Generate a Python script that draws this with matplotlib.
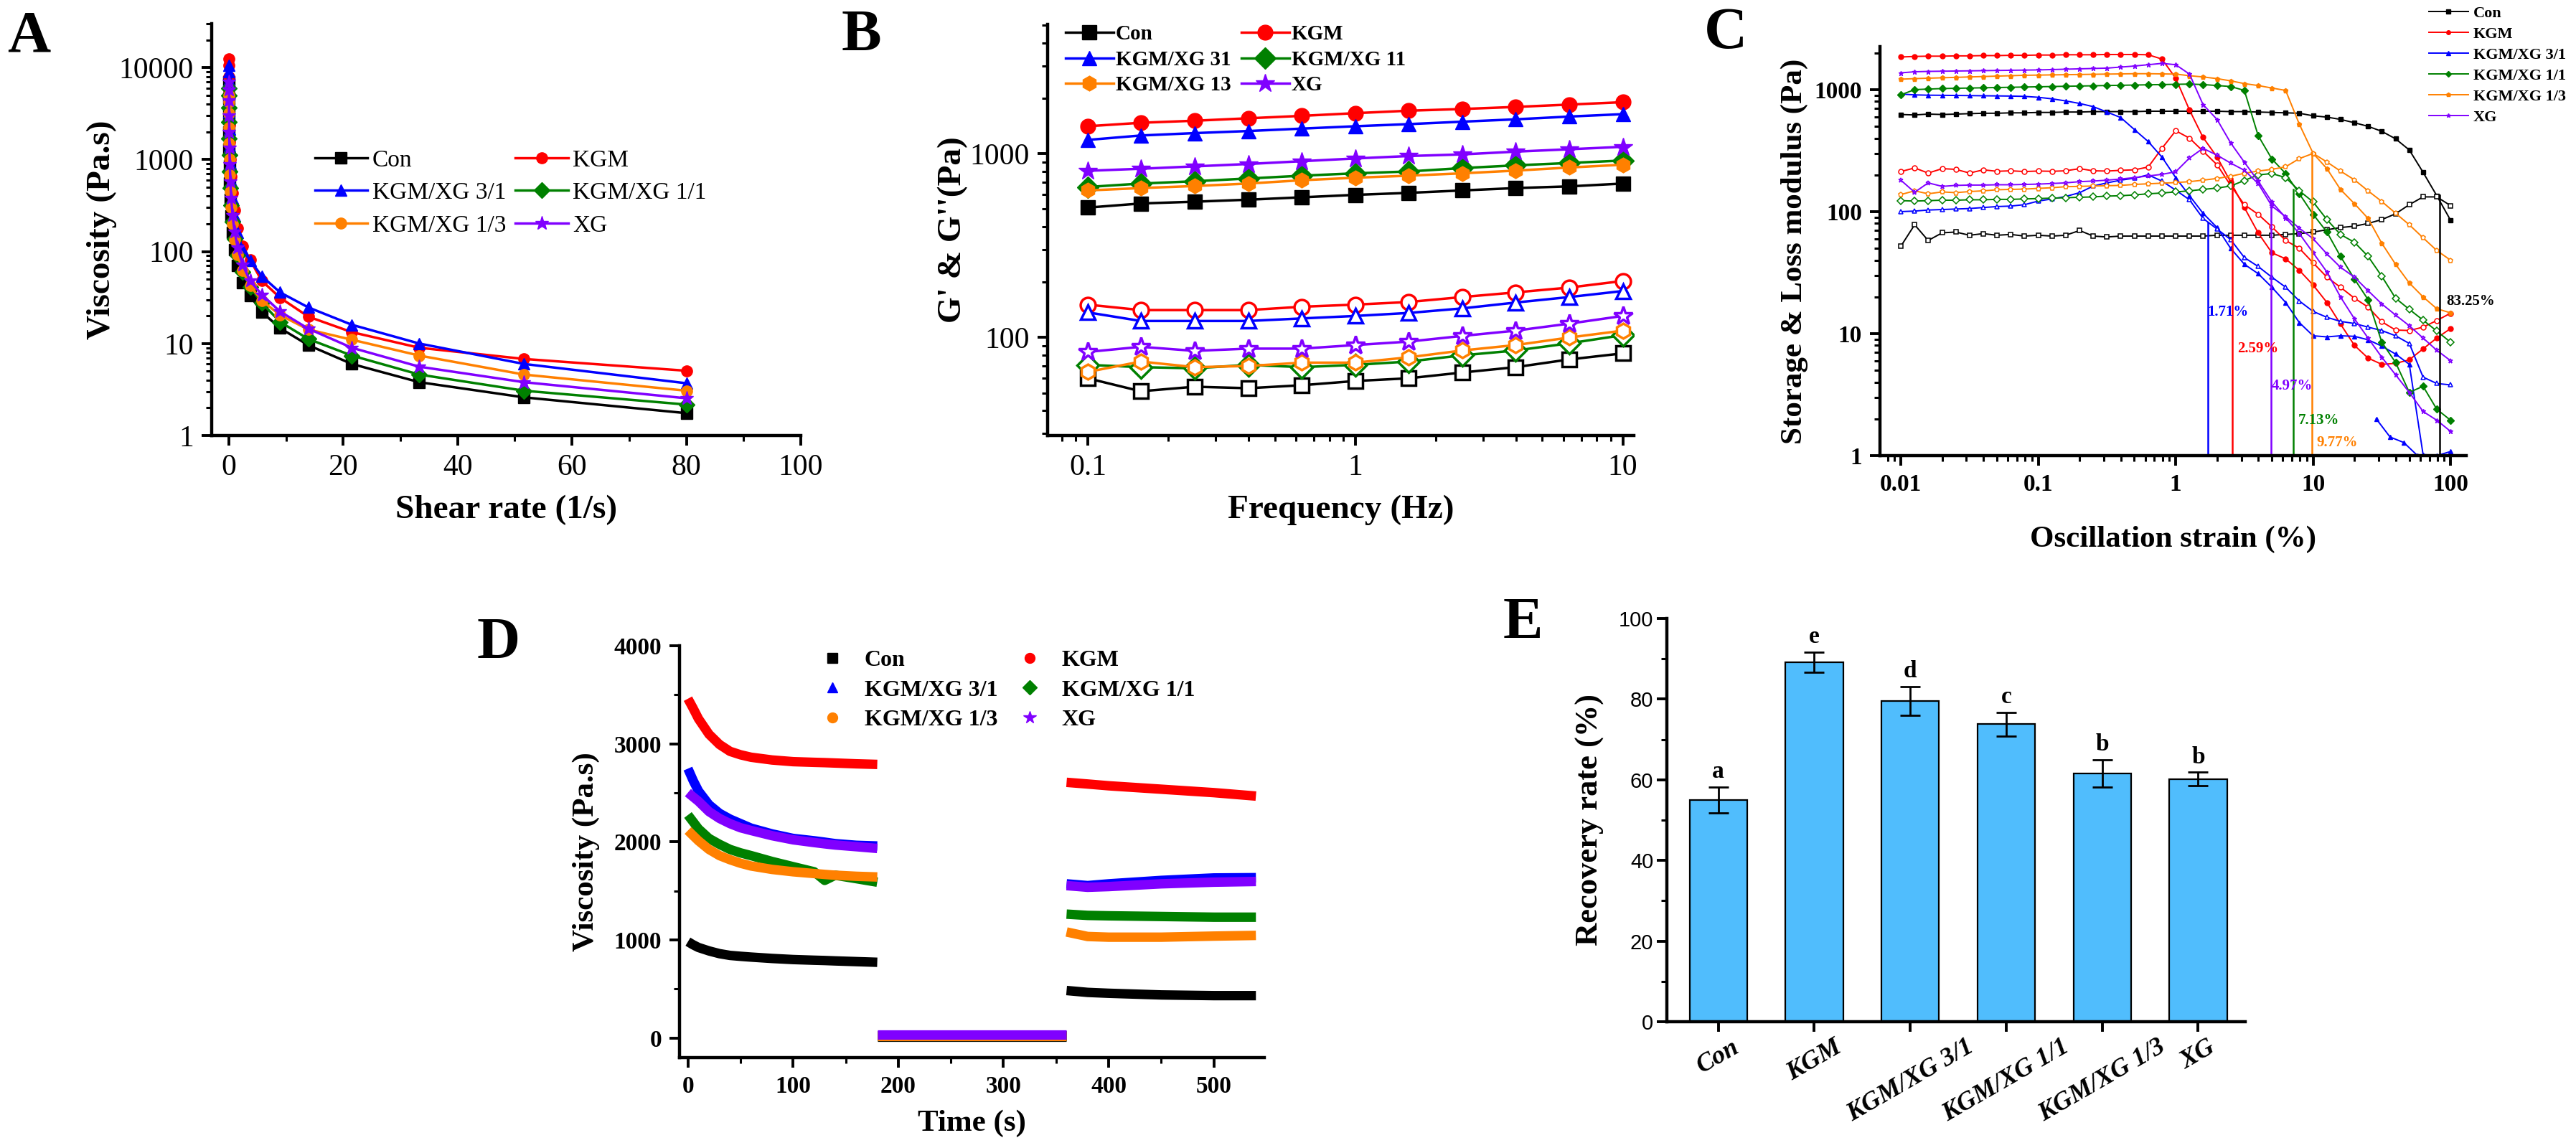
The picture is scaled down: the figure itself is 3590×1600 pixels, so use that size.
import numpy as np
import matplotlib.pyplot as plt
from matplotlib.ticker import LogLocator, NullFormatter, MultipleLocator
from matplotlib.lines import Line2D

plt.rcParams['font.family'] = ['Liberation Serif', 'DejaVu Serif']

W, H = 3591, 1600

names = ['Con', 'KGM', 'KGM/XG 3/1', 'KGM/XG 1/1', 'KGM/XG 1/3', 'XG']
names_B = ['Con', 'KGM', 'KGM/XG 31', 'KGM/XG 11', 'KGM/XG 13', 'XG']
colors = ['black', '#FF0000', '#0000FF', '#008000', '#FF8000', '#8000FF']

# ---- A: steady shear viscosity ----
shear = [0.0125, 0.0194, 0.030, 0.0465, 0.072, 0.112, 0.173, 0.268, 0.416, 0.645, 1.0,
         1.55, 2.40, 3.73, 5.77, 8.95, 13.9, 21.5, 33.3, 51.6, 80.0]
visc_con = [7000, 4600, 3000, 2000, 1300, 850, 560, 370, 245, 160, 105, 70, 46, 33, 22, 14.7, 9.6, 6.0, 3.8, 2.6, 1.75]
visc_kgm = [12500, 10500, 8000, 5600, 3700, 2400, 1550, 1000, 660, 430, 280, 180, 115, 81, 48, 31.5, 19.6, 13.3, 9.0, 6.8, 5.06]
visc_31 = [10500, 9000, 7200, 5000, 3300, 2150, 1400, 900, 590, 380, 245, 160, 105, 80, 54, 36, 24.7, 16, 10, 6.0, 3.7]
visc_11 = [6000, 5000, 3700, 2550, 1700, 1120, 740, 490, 320, 210, 137, 90, 60, 41, 27.6, 17.2, 11.2, 7.4, 4.6, 3.07, 2.17]
visc_13 = [5000, 4200, 3200, 2200, 1500, 1000, 680, 450, 300, 200, 135, 92, 62, 42.5, 29.3, 20.4, 14.2, 11, 7.4, 4.6, 3.07]
visc_xg = [7000, 5800, 4400, 3000, 2000, 1330, 880, 580, 380, 250, 165, 110, 72, 48, 34, 22.3, 14.5, 9.0, 5.6, 3.8, 2.54]

# ---- B: frequency sweep ----
freq = [0.1, 0.158, 0.251, 0.398, 0.631, 1.0, 1.58, 2.51, 3.98, 6.31, 10.0]
gp_con = [509, 536, 548, 562, 579, 597, 612, 631, 650, 664, 688]
gp_kgm = [1410, 1473, 1511, 1558, 1606, 1661, 1713, 1750, 1796, 1850, 1906]
gp_31 = [1188, 1256, 1294, 1328, 1369, 1410, 1448, 1493, 1538, 1592, 1641]
gp_11 = [659, 688, 708, 733, 759, 782, 800, 835, 864, 890, 918]
gp_13 = [631, 650, 667, 688, 717, 740, 759, 782, 809, 841, 871]
gp_xg = [807, 828, 853, 879, 910, 942, 971, 991, 1026, 1057, 1090]
gpp_con = [60, 51, 54, 53, 55, 58, 60, 64.5, 69, 76, 82]
gpp_kgm = [151, 141, 141, 141, 147, 151, 156, 166, 176, 187, 203]
gpp_31 = [137, 123, 123, 123, 127, 131, 136, 144, 155, 166, 179]
gpp_11 = [71, 69, 68, 71, 69, 71, 74, 80, 85, 93, 103]
gpp_13 = [65, 74, 69, 70, 73, 73, 78, 85, 91, 100, 109]
gpp_xg = [83.5, 89, 84.6, 87, 87, 91, 95, 102, 109, 119, 131]

# ---- C: amplitude sweep ----
strain = [0.01, 0.0126, 0.0158, 0.02, 0.0251, 0.0316, 0.0398, 0.0501, 0.0631, 0.0794,
          0.1, 0.126, 0.158, 0.2, 0.251, 0.316, 0.398, 0.501, 0.631, 0.794,
          1, 1.26, 1.58, 2, 2.51, 3.16, 3.98, 5.01, 6.31, 7.94,
          10, 12.6, 15.8, 20, 25.1, 31.6, 39.8, 50.1, 63.1, 79.4, 100]
sto_con = [625, 620, 630, 625, 630, 635, 640, 640, 645, 645, 650, 650, 655, 655, 660, 660, 660, 660, 665, 665,
           665, 665, 665, 665, 660, 660, 655, 650, 645, 640, 610, 595, 570, 535, 500, 455, 395, 320, 210, 135, 85]
loss_con = [52, 78, 58, 67, 68, 64, 66, 64, 65, 63, 64, 63, 64, 70, 63, 62, 63, 63, 63, 63,
            63, 63, 63, 64, 64, 64, 64, 64, 65, 66, 68, 71, 74, 76, 80, 86, 96, 114, 132, 132, 112]
sto_kgm = [1850, 1870, 1880, 1880, 1890, 1890, 1900, 1900, 1910, 1910, 1920, 1920, 1930, 1930, 1930, 1940, 1940, 1940, 1930, 1780,
           1240, 680, 406, 280, 175, 108, 67, 46, 41, 33, 25, 18, 12, 8, 6.3, 5.6, 5.7, 6.1, 7.5, 9.2, 11]
loss_kgm = [213, 228, 207, 225, 222, 207, 220, 214, 216, 213, 215, 214, 216, 225, 216, 215, 218, 220, 232, 330,
            460, 400, 313, 242, 164, 114, 95, 75, 58, 50, 38, 29, 24, 19.5, 16.5, 12.5, 10.7, 10.6, 11.3, 12.8, 14.7]
sto_31 = [920, 905, 900, 898, 895, 893, 890, 888, 885, 880, 865, 840, 808, 770, 725, 655, 590, 470, 375, 280,
          190, 135, 97, 74, 50, 37, 31, 24, 18, 12.3, 9.6, 9.4, 9.6, 9.5, 8.9, 7.9, 6.8, 5.6, 1.02, 1.0, 1.08]
loss_31 = [100, 101, 103, 104, 105, 106, 108, 110, 111, 114, 122, 127, 133, 143, 162, 172, 181, 188, 200, 178,
           150, 125, 88, 72, 59, 42, 35.5, 29, 24, 18.5, 15.2, 13.6, 12.6, 12.1, 11.3, 10.6, 9.6, 8.3, 4.4, 3.9, 3.8]
sto_11 = [906, 1000, 1010, 1020, 1025, 1030, 1035, 1040, 1045, 1050, 1055, 1060, 1065, 1070, 1075, 1080, 1085, 1090, 1095, 1100,
          1105, 1110, 1100, 1080, 1060, 985, 420, 270, 205, 140, 95, 68, 43, 28, 19, 8.5, 5.8, 3.3, 3.7, 2.4, 1.95]
loss_11 = [123, 122, 123, 124, 124, 125, 125, 126, 126, 127, 128, 129, 130, 131, 132, 134, 135, 137, 140, 142,
           145, 148, 152, 156, 162, 180, 200, 205, 190, 148, 120, 86, 65, 56, 43, 29.5, 19.5, 15.8, 12.9, 10.5, 8.5]
sto_13 = [1218, 1230, 1240, 1250, 1260, 1270, 1280, 1290, 1300, 1310, 1315, 1320, 1325, 1330, 1335, 1340, 1345, 1350, 1350, 1345,
          1340, 1300, 1270, 1230, 1180, 1120, 1080, 1030, 985, 520, 300, 225, 152, 116, 88, 55, 37, 26, 20, 16, 14.8]
loss_13 = [138, 148, 140, 145, 143, 146, 148, 151, 152, 153, 155, 157, 160, 161, 162, 163, 164, 167, 169, 171,
           173, 176, 181, 187, 195, 206, 215, 222, 233, 272, 300, 255, 215, 182, 148, 121, 97, 78, 61, 48, 40]
sto_xg = [1372, 1400, 1410, 1415, 1420, 1425, 1430, 1435, 1440, 1445, 1450, 1460, 1470, 1480, 1490, 1500, 1530, 1560, 1600, 1640,
          1600, 1340, 755, 569, 366, 254, 178, 120, 89, 66, 46, 32, 20, 13.2, 9.2, 6.4, 4.6, 3.3, 2.3, 1.95, 1.58]
loss_xg = [181, 144, 172, 161, 164, 165, 165, 166, 166, 167, 168, 170, 172, 176, 178, 181, 185, 190, 196, 202,
           212, 275, 330, 290, 250, 218, 170, 111, 91, 73, 60, 45, 35, 29, 22.5, 17.5, 14.2, 11.6, 9.2, 7.3, 6.0]
tail_strain_31 = [28.8, 36.3, 45.7, 57.5]
tail_sto_31 = [2.0, 1.42, 1.28, 1.0]
yield_strain = [1.71, 2.59, 4.97, 7.13, 9.77, 83.25]
yield_top = [81, 186, 123, 152, 305, 136]
yield_text = ['1.71%', '2.59%', '4.97%', '7.13%', '9.77%', '83.25%']
yield_color = ['#0000FF', '#FF0000', '#8000FF', '#008000', '#FF8000', 'black']
yield_text_x = [1.71, 2.82, 4.97, 7.8, 10.6, 93]
yield_text_y = [15, 7.5, 3.7, 1.94, 1.28, 18.5]

# ---- D: three interval thixotropy ----
t1 = [0, 5, 10, 20, 30, 40, 50, 60, 80, 100, 120, 130, 140, 160, 180]
d_con1 = [982, 950, 923, 888, 860, 842, 833, 825, 811, 800, 793, 790, 786, 779, 772]
d_kgm1 = [3460, 3361, 3256, 3098, 2993, 2923, 2888, 2863, 2835, 2818, 2811, 2808, 2804, 2796, 2790]
d_31_1 = [2747, 2625, 2519, 2379, 2291, 2232, 2186, 2140, 2081, 2035, 2011, 1997, 1982, 1965, 1958]
d_11_1 = [2274, 2204, 2133, 2035, 1975, 1923, 1888, 1860, 1800, 1747, 1695, 1607, 1660, 1625, 1589]
d_13_1 = [2116, 2063, 2011, 1923, 1860, 1818, 1782, 1754, 1719, 1695, 1677, 1668, 1660, 1649, 1642]
d_xg1 = [2502, 2458, 2414, 2309, 2239, 2186, 2144, 2116, 2063, 2021, 1993, 1980, 1968, 1951, 1933]
t2 = [180, 360]
d_con2 = [15, 15]
d_kgm2 = [28, 28]
d_31_2 = [30, 30]
d_11_2 = [22, 22]
d_13_2 = [20, 20]
d_xg2 = [35, 35]
t3 = [360, 380, 400, 450, 500, 540]
d_con3 = [484, 465, 456, 439, 432, 432]
d_kgm3 = [2607, 2590, 2572, 2537, 2502, 2467]
d_31_3 = [1572, 1554, 1572, 1607, 1632, 1635]
d_11_3 = [1263, 1250, 1246, 1239, 1232, 1232]
d_13_3 = [1081, 1035, 1028, 1028, 1039, 1046]
d_xg3 = [1554, 1537, 1544, 1572, 1589, 1596]

# ---- E: recovery rate ----
recovery = [55.0, 89.2, 79.5, 73.8, 61.6, 60.2]
recovery_err = [3.2, 2.5, 3.6, 2.9, 3.4, 1.7]
sig_letters = ['a', 'e', 'd', 'c', 'b', 'b']


def box(l, t, r, b):
    return [l / W, 1 - b / H, (r - l) / W, (b - t) / H]


def style(ax, lw=3.2):
    for s in ['top', 'right']:
        ax.spines[s].set_visible(False)
    for s in ['left', 'bottom']:
        ax.spines[s].set_linewidth(lw)
    ax.tick_params(which='major', direction='out', length=10, width=2.8)
    ax.tick_params(which='minor', direction='out', length=5.5, width=2.2)


def log_minor(axis):
    axis.set_minor_locator(LogLocator(base=10, subs=np.arange(2, 10), numticks=20))
    axis.set_minor_formatter(NullFormatter())


fig = plt.figure(figsize=(W / 100, H / 100), dpi=100)
order = [0, 2, 4, 1, 3, 5]

# ================= A =================
axA = fig.add_axes(box(295, 33, 1116, 607))
style(axA)
mk_A = ['s', 'o', '^', 'D', 'o', '*']
for y, c, m, lab in zip([visc_con, visc_kgm, visc_31, visc_11, visc_13, visc_xg], colors, mk_A, names):
    axA.plot(shear, y, color=c, marker=m, ms=11 if m != '*' else 14, mec=c, lw=2.5, label=lab)
axA.set_yscale('log')
axA.set_xlim(-3, 100)
axA.set_ylim(1, 30000)
axA.set_xticks([0, 20, 40, 60, 80, 100])
axA.xaxis.set_minor_locator(MultipleLocator(10))
axA.set_yticks([1, 10, 100, 1000, 10000])
axA.set_yticklabels(['1', '10', '100', '1000', '10000'])
log_minor(axA.yaxis)
axA.tick_params(labelsize=30, pad=8)
axA.set_xlabel('Shear rate (1/s)', fontsize=34, fontweight='bold', labelpad=14)
axA.set_ylabel('Viscosity (Pa.s)', fontsize=34, fontweight='bold', labelpad=2)
hA, lA = axA.get_legend_handles_labels()
axA.legend([hA[i] for i in order], [lA[i] for i in order], ncol=2, loc='upper left',
           bbox_to_anchor=(0.175, 0.695), frameon=False, fontsize=24, borderpad=0, borderaxespad=0,
           handlelength=2.2, handletextpad=0.2, columnspacing=0.4, labelspacing=0.45)

# ================= B =================
axB = fig.add_axes(box(1460, 34, 2277, 607))
style(axB)
mk_B = ['s', 'o', '^', 'D', 'h', '*']
gp_all = [gp_con, gp_kgm, gp_31, gp_11, gp_13, gp_xg]
gpp_all = [gpp_con, gpp_kgm, gpp_31, gpp_11, gpp_13, gpp_xg]
for gp, gpp, c, m, lab in zip(gp_all, gpp_all, colors, mk_B, names_B):
    ms = 15 if m != '*' else 19
    axB.plot(freq, gp, color=c, marker=m, ms=ms, mec=c, lw=2.5, label=lab)
    axB.plot(freq, gpp, color=c, marker=m, ms=ms, mec=c, mfc='white', mew=2.5, lw=2.5)
axB.set_xscale('log')
axB.set_yscale('log')
axB.set_xlim(0.0708, 11.0)
axB.set_ylim(29.3, 5050)
axB.set_xticks([0.1, 1, 10])
axB.set_xticklabels(['0.1', '1', '10'])
axB.set_yticks([100, 1000])
axB.set_yticklabels(['100', '1000'])
log_minor(axB.xaxis)
log_minor(axB.yaxis)
axB.tick_params(labelsize=30, pad=8)
axB.set_xlabel('Frequency (Hz)', fontsize=34, fontweight='bold', labelpad=14)
axB.set_ylabel("G' & G''(Pa)", fontsize=34, fontweight='bold', labelpad=2)
hB, lB = axB.get_legend_handles_labels()
axB.legend([hB[i] for i in order], [lB[i] for i in order], ncol=2, loc='upper left',
           bbox_to_anchor=(0.03, 1.0), frameon=False, prop={'size': 21, 'weight': 'bold'},
           borderpad=0, borderaxespad=0, handlelength=2.3, handletextpad=0.1,
           columnspacing=0.5, labelspacing=0.3)

# ================= C =================
axC = fig.add_axes(box(2620, 65, 3437, 635))
style(axC)
mk_C = ['s', 'o', '^', 'D', 'p', '*']
sto_all = [sto_con, sto_kgm, sto_31, sto_11, sto_13, sto_xg]
loss_all = [loss_con, loss_kgm, loss_31, loss_11, loss_13, loss_xg]
for gs, gl, c, m, lab in zip(sto_all, loss_all, colors, mk_C, names):
    axC.plot(strain, gs, color=c, marker=m, ms=5, mec=c, lw=1.4, label=lab)
    axC.plot(strain, gl, color=c, marker=m, ms=5, mec=c, mfc='white', mew=1.1, lw=1.4)
axC.plot(tail_strain_31, tail_sto_31, color='#0000FF', marker='^', ms=5, lw=1.4)
for xs, top, col, txt, tx, ty in zip(yield_strain, yield_top, yield_color, yield_text, yield_text_x, yield_text_y):
    axC.plot([xs, xs], [1, top], color=col, lw=1.8)
    axC.text(tx, ty, txt, color=col, fontsize=15, fontweight='bold', ha='left', va='center')
axC.set_xscale('log')
axC.set_yscale('log')
axC.set_xlim(0.00705, 130)
axC.set_ylim(1, 2250)
axC.set_xticks([0.01, 0.1, 1, 10, 100])
axC.set_xticklabels(['0.01', '0.1', '1', '10', '100'])
axC.set_yticks([1, 10, 100, 1000])
axC.set_yticklabels(['1', '10', '100', '1000'])
log_minor(axC.xaxis)
log_minor(axC.yaxis)
axC.tick_params(labelsize=24, pad=8)
for lbl in axC.get_xticklabels() + axC.get_yticklabels():
    lbl.set_fontweight('bold')
axC.set_xlabel('Oscillation strain (%)', fontsize=31, fontweight='bold', labelpad=30)
axC.set_ylabel('Storage & Loss modulus (Pa)', fontsize=31, fontweight='bold', labelpad=6)
axC.legend(loc='upper left', bbox_to_anchor=(0.936, 1.1), frameon=False,
           prop={'size': 16, 'weight': 'bold'}, borderpad=0, borderaxespad=0,
           handlelength=2.5, handletextpad=0.3, labelspacing=0.38, markerscale=0.8)

# ================= D =================
axD = fig.add_axes(box(947, 900, 1762, 1474))
style(axD)
mk_D = ['s', 'o', '^', 'D', 'o', '*']
seg1 = [d_con1, d_kgm1, d_31_1, d_11_1, d_13_1, d_xg1]
seg2 = [d_con2, d_kgm2, d_31_2, d_11_2, d_13_2, d_xg2]
seg3 = [d_con3, d_kgm3, d_31_3, d_11_3, d_13_3, d_xg3]
for s1, s2, s3, c in zip(seg1, seg2, seg3, colors):
    axD.plot(t1, s1, color=c, lw=9.5, solid_capstyle='butt')
    axD.plot(t2, s2, color=c, lw=9.5, solid_capstyle='butt')
    axD.plot(t3, s3, color=c, lw=9.5, solid_capstyle='butt')
axD.set_xlim(-8, 548)
axD.set_ylim(-200, 4000)
axD.set_xticks([0, 100, 200, 300, 400, 500])
axD.xaxis.set_minor_locator(MultipleLocator(50))
axD.set_yticks([0, 1000, 2000, 3000, 4000])
axD.yaxis.set_minor_locator(MultipleLocator(500))
axD.tick_params(labelsize=24, pad=8)
for lbl in axD.get_xticklabels() + axD.get_yticklabels():
    lbl.set_fontweight('bold')
axD.set_xlabel('Time (s)', fontsize=31, fontweight='bold', labelpad=12)
axD.set_ylabel('Viscosity (Pa.s)', fontsize=31, fontweight='bold', labelpad=14)
hD = [Line2D([], [], ls='none', marker=m, color=c, ms=10 if m != '*' else 13) for m, c in zip(mk_D, colors)]
axD.legend([hD[i] for i in order], [names[i] for i in order], ncol=2, loc='upper left',
           bbox_to_anchor=(0.242, 0.99), frameon=False, prop={'size': 23, 'weight': 'bold'},
           borderpad=0, borderaxespad=0, handlelength=1.0, handletextpad=0.9,
           columnspacing=0.9, labelspacing=0.38)

# ================= E =================
axE = fig.add_axes(box(2323, 862, 3129, 1424))
style(axE)
xpos = np.arange(len(names))
axE.bar(xpos, recovery, width=0.6, color='#50BDFD', edgecolor='black', linewidth=1.6)
axE.errorbar(xpos, recovery, yerr=recovery_err, fmt='none', ecolor='black', elinewidth=2,
             capsize=10, capthick=2)
for xi, v, e, s in zip(xpos, recovery, recovery_err, sig_letters):
    axE.text(xi, v + e + 1.0, s, ha='center', va='bottom', fontsize=24, fontweight='bold')
axE.set_xlim(-0.536, 5.49)
axE.set_ylim(0, 100)
axE.set_yticks([0, 20, 40, 60, 80, 100])
axE.yaxis.set_minor_locator(MultipleLocator(10))
axE.set_xticks(xpos)
axE.set_xticklabels(names, rotation=30, ha='center', fontsize=26, fontstyle='italic', fontweight='bold')
for lbl in axE.get_yticklabels():
    lbl.set_fontfamily('Liberation Sans')
    lbl.set_fontsize(21)
axE.set_ylabel('Recovery rate (%)', fontsize=32, fontweight='bold', labelpad=14)

# panel letters
for letter, px, py in [('A', 40, 52), ('B', 1200, 50), ('C', 2405, 48), ('D', 695, 897), ('E', 2122, 870)]:
    fig.text(px / W, 1 - py / H, letter, fontsize=60, fontweight='bold', ha='center', va='center')

fig.savefig('out.png', dpi=100, facecolor='white')
